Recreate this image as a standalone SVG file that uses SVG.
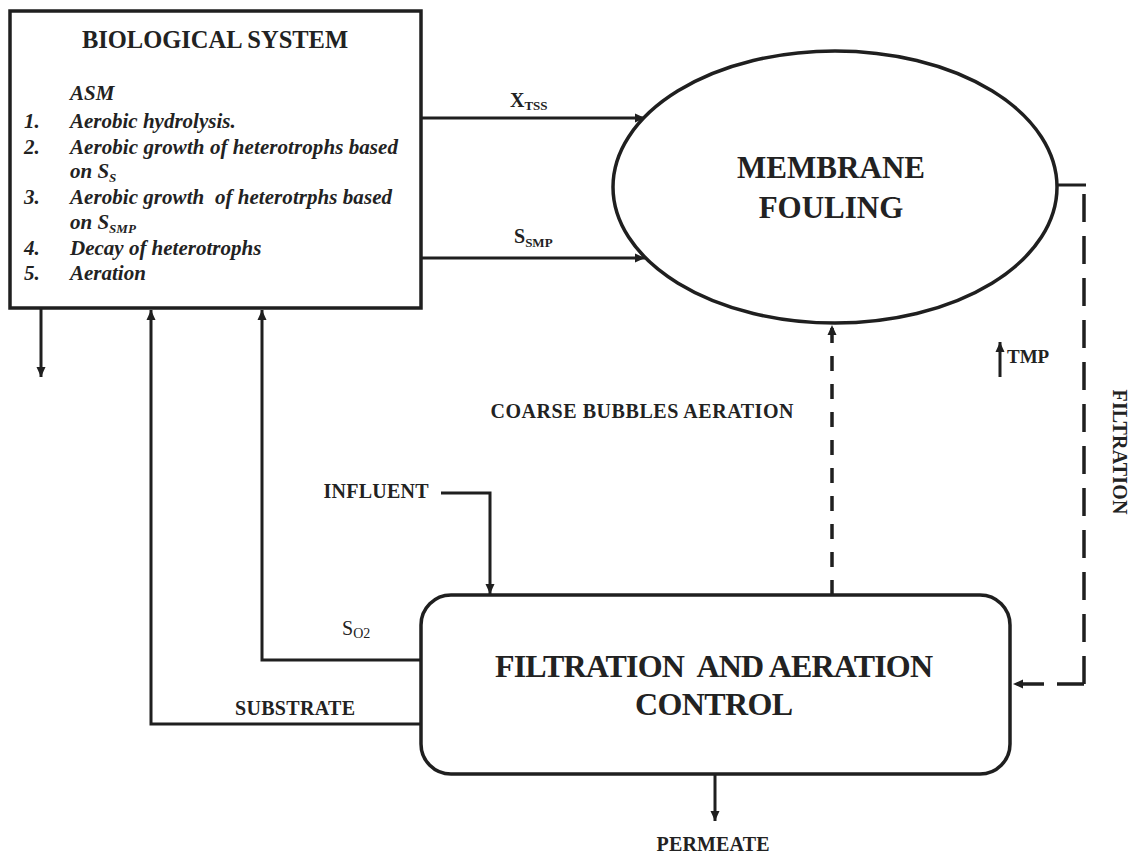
<svg xmlns="http://www.w3.org/2000/svg" width="1131" height="854" viewBox="0 0 1131 854">
<style>
.ln{fill:none;stroke:#1f1f1f;stroke-width:3}
.dash{fill:none;stroke:#1f1f1f;stroke-width:3.5}
.shape{fill:#fff;stroke:#1f1f1f;stroke-width:3.5}
.t{font-family:"Liberation Serif","Times New Roman",serif;font-weight:bold;fill:#222}
.it{font-family:"Liberation Serif","Times New Roman",serif;font-weight:bold;font-style:italic;fill:#222;font-size:21px}
.reg{font-family:"Liberation Serif","Times New Roman",serif;fill:#222}
</style>
<defs>
<marker id="ah" viewBox="0 0 10 10" refX="10" refY="5" markerWidth="10" markerHeight="10" orient="auto" markerUnits="userSpaceOnUse">
<path d="M0,0.5 L10,5 L0,9.5 z" fill="#1f1f1f"/>
</marker>
</defs>
<rect width="1131" height="854" fill="#fff"/>

<g id="connectors">
<path class="ln" d="M421,118 H645" marker-end="url(#ah)"/>
<path class="ln" d="M421,258 H645" marker-end="url(#ah)"/>
<path class="ln" d="M41,308 V377" marker-end="url(#ah)"/>
<path class="ln" d="M421,724 H151 V310" marker-end="url(#ah)"/>
<path class="ln" d="M421,660 H262 V310" marker-end="url(#ah)"/>
<path class="ln" d="M441,493 H490 V594" marker-end="url(#ah)"/>
<path class="ln" d="M715,775 V821" marker-end="url(#ah)"/>
<path class="dash" d="M832,595 V325" stroke-dasharray="15 13" marker-end="url(#ah)"/>
<path class="ln" d="M1057,185 H1086"/>
<path class="dash" d="M1084,194 V684" stroke-dasharray="28 14"/>
<path class="dash" d="M1084,684 H1013" stroke-dasharray="27 13" marker-end="url(#ah)"/>
<path class="ln" d="M1000,377 V342" marker-end="url(#ah)"/>
</g>

<g id="labels">
<text class="t" x="510" y="107" font-size="20">X<tspan font-size="13" dy="3">TSS</tspan></text>
<text class="t" x="514" y="243" font-size="20">S<tspan font-size="13" dy="4">SMP</tspan></text>
<text class="reg" x="342" y="635" font-size="20">S<tspan font-size="14" dy="3">O2</tspan></text>
<text class="t" x="295" y="715" font-size="20" text-anchor="middle" textLength="120">SUBSTRATE</text>
<text class="t" x="376" y="498" font-size="20" text-anchor="middle" textLength="105">INFLUENT</text>
<text class="t" x="642" y="418" font-size="20" text-anchor="middle" textLength="303">COARSE BUBBLES AERATION</text>
<text class="t" x="1007" y="363" font-size="19">TMP</text>
<text class="t" font-size="20" text-anchor="middle" textLength="125" transform="translate(1113,452) rotate(90)">FILTRATION</text>
<text class="t" x="713" y="851" font-size="20" text-anchor="middle" textLength="113">PERMEATE</text>
</g>

<g id="biological-system">
<rect class="shape" x="10" y="11" width="411" height="297"/>
<text class="t" x="215" y="48" font-size="24.5" text-anchor="middle">BIOLOGICAL SYSTEM</text>
<text class="it" x="70" y="100">ASM</text>
<text class="it" x="24" y="128">1.</text>
<text class="it" x="70" y="128">Aerobic hydrolysis.</text>
<text class="it" x="24" y="154">2.</text>
<text class="it" x="70" y="154" textLength="328">Aerobic growth of heterotrophs based</text>
<text class="it" x="70" y="178">on S<tspan font-size="13" dy="4">S</tspan></text>
<text class="it" x="24" y="204">3.</text>
<text class="it" x="70" y="204" textLength="322" xml:space="preserve">Aerobic growth  of heterotrphs based</text>
<text class="it" x="70" y="229">on S<tspan font-size="13" dy="4">SMP</tspan></text>
<text class="it" x="24" y="255">4.</text>
<text class="it" x="70" y="255">Decay of heterotrophs</text>
<text class="it" x="24" y="280">5.</text>
<text class="it" x="70" y="280">Aeration</text>
</g>

<g id="membrane-fouling">
<ellipse class="shape" cx="835" cy="187" rx="222" ry="136"/>
<text class="t" x="831" y="178" font-size="31" text-anchor="middle" textLength="188">MEMBRANE</text>
<text class="t" x="831" y="218" font-size="31" text-anchor="middle">FOULING</text>
</g>

<g id="filtration-aeration-control">
<rect class="shape" x="421" y="595" width="589" height="179" rx="30" ry="30"/>
<text class="t" x="714" y="677" font-size="32" text-anchor="middle" textLength="438" xml:space="preserve">FILTRATION  AND AERATION</text>
<text class="t" x="714" y="715" font-size="32" text-anchor="middle" textLength="158">CONTROL</text>
</g>
</svg>
